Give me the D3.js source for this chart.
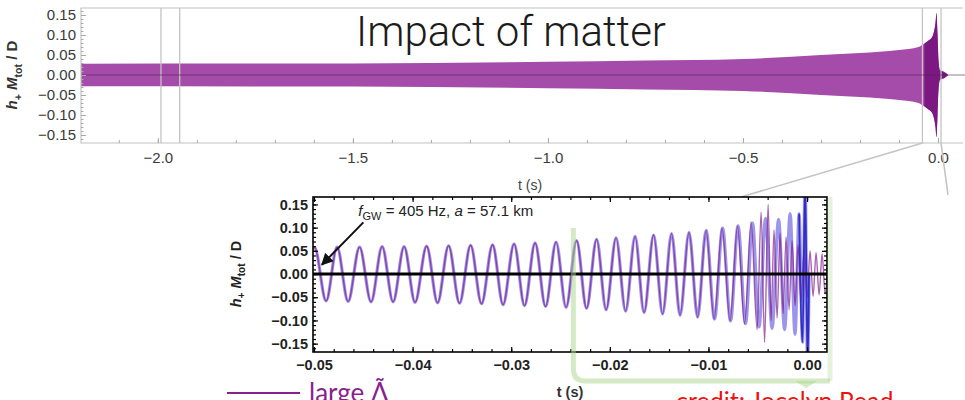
<!DOCTYPE html>
<html><head><meta charset="utf-8">
<script src="https://cdn.jsdelivr.net/npm/d3@7"></script>
<style>
body{margin:0;background:#fff;}
svg{display:block;}
</style></head>
<body>
<svg id="chart" width="965" height="400"></svg>
<script>
// ---- full inspiral: envelope of h+ Mtot/D over the last ~2.2 s ----
const fullTime = [-2.2, -1.5, -1.0, -0.75, -0.5, -0.3, -0.2, -0.1, -0.05, -0.041, -0.026, -0.015, -0.010, -0.0065, -0.004, -0.0013, 0.0013, 0.005, 0.013, 0.020, 0.026];
const fullAmp  = [0.028, 0.029, 0.033, 0.036, 0.040, 0.050, 0.055, 0.0625, 0.070, 0.075, 0.085, 0.095, 0.110, 0.130, 0.155, 0.100, 0.035, 0.012, 0.009, 0.005, 0.0];
const fullTicksX = [-2.0, -1.5, -1.0, -0.5, 0.0];
const ampTicks = [-0.15, -0.10, -0.05, 0.00, 0.05, 0.10, 0.15];
const lateOnset = -0.035;            // start of the dense, darker late stage
const zoomWindows = [[-1.992, -1.944], [-0.040, 0.0077]];

// ---- last 50 ms: successive extrema of the waveform ----
const largeLambdaT = [-0.05111, -0.04994, -0.04877, -0.04766, -0.04654, -0.04538, -0.04421, -0.04309, -0.04198, -0.04086,
  -0.03975, -0.03858, -0.03747, -0.03635, -0.03524, -0.03412, -0.03301, -0.03189, -0.03083, -0.02971,
  -0.02865, -0.02758, -0.02652, -0.02545, -0.02444, -0.02337, -0.02236, -0.02134, -0.02038, -0.01937,
  -0.01840, -0.01744, -0.01653, -0.01556, -0.01465, -0.01374, -0.01288, -0.01197, -0.01110, -0.01024,
  -0.00943, -0.00862, -0.00781, -0.00705, -0.00634, -0.00568, -0.00507, -0.00466, -0.00431, -0.00395,
  -0.00365, -0.00335, -0.00304, -0.00274, -0.00243, -0.00213, -0.00183, -0.00152, -0.00122, -0.00091,
  -0.00061, -0.00030, 0.00000, 0.00030, 0.00061, 0.00091, 0.00122, 0.00152, 0.00183, 0.00213];
const largeLambdaH = [-0.057, 0.057, -0.058, 0.058, -0.059, 0.058, -0.060, 0.059, -0.060, 0.059,
  -0.061, 0.060, -0.062, 0.061, -0.063, 0.062, -0.064, 0.063, -0.066, 0.065,
  -0.068, 0.067, -0.070, 0.069, -0.072, 0.072, -0.074, 0.075, -0.077, 0.078,
  -0.080, 0.081, -0.083, 0.084, -0.086, 0.087, -0.089, 0.090, -0.093, 0.094,
  -0.097, 0.098, -0.101, 0.103, -0.107, 0.112, -0.120, 0.134, -0.147, 0.150,
  -0.100, 0.095, -0.095, 0.088, -0.085, 0.080, -0.077, 0.072, -0.068, 0.063,
  -0.060, 0.055, -0.052, 0.050, -0.048, 0.046, -0.045, 0.044, -0.043, 0.042];

const pointT = [-0.05111, -0.04994, -0.04877, -0.04766, -0.04654, -0.04538, -0.04421, -0.04309, -0.04198, -0.04086,
  -0.03975, -0.03858, -0.03747, -0.03635, -0.03524, -0.03412, -0.03301, -0.03189, -0.03083, -0.02971,
  -0.02865, -0.02758, -0.02652, -0.02545, -0.02444, -0.02337, -0.02236, -0.02134, -0.02038, -0.01937,
  -0.01840, -0.01744, -0.01653, -0.01556, -0.01465, -0.01374, -0.01288, -0.01197, -0.01110, -0.01024,
  -0.00938, -0.00857, -0.00776, -0.00700, -0.00624, -0.00553, -0.00487, -0.00421, -0.00355, -0.00289,
  -0.00228, -0.00172, -0.00122, -0.00081, -0.00046, -0.00020, 0.00005, 0.00020];
const pointH = [-0.057, 0.057, -0.058, 0.058, -0.059, 0.058, -0.060, 0.059, -0.060, 0.059,
  -0.061, 0.060, -0.062, 0.061, -0.063, 0.062, -0.064, 0.063, -0.066, 0.065,
  -0.068, 0.067, -0.070, 0.069, -0.072, 0.072, -0.074, 0.075, -0.077, 0.078,
  -0.080, 0.081, -0.083, 0.084, -0.086, 0.087, -0.089, 0.090, -0.093, 0.094,
  -0.097, 0.099, -0.101, 0.104, -0.107, 0.110, -0.114, 0.120, -0.117, 0.118,
  -0.120, 0.130, -0.130, 0.130, -0.147, 0.200, -0.200, 0.0];
const insetTicksX = [-0.05, -0.04, -0.03, -0.02, -0.01, 0.00];
const annotTarget = [-0.0492, 0.02];
const annotText = [-0.0455, 0.135];

const svg = d3.select("#chart");
const fmt2 = d3.format(".2f"), fmt1 = d3.format(".1f");

// ================= upper panel =================
const upBox = {l: 81, r: 963, t: 8, b: 143};
const xTop = d3.scaleLinear().domain([-2.197, 0.064]).range([upBox.l, upBox.r]);
const yTop = d3.scaleLinear().domain([-0.17, 0.1675]).range([upBox.b, upBox.t]);

const gTop = svg.append("g");
gTop.append("clipPath").attr("id", "topclip").append("rect")
  .attr("x", upBox.l).attr("y", upBox.t).attr("width", upBox.r - upBox.l + 5).attr("height", upBox.b - upBox.t);
gTop.append("clipPath").attr("id", "lateclip").append("rect")
  .attr("x", xTop(lateOnset)).attr("y", upBox.t).attr("width", upBox.r - xTop(lateOnset) + 5).attr("height", upBox.b - upBox.t);

const envData = fullTime.map((t, i) => ({t, a: fullAmp[i]}));
const band = d3.area().x(d => xTop(d.t)).y0(d => yTop(-d.a)).y1(d => yTop(d.a)).curve(d3.curveMonotoneX);
gTop.append("path").datum(envData).attr("d", band).attr("fill", "#a54ba9").attr("clip-path", "url(#topclip)");
gTop.append("path").datum(envData).attr("d", band).attr("fill", "#7b1882").attr("clip-path", "url(#lateclip)");

// zoom-window markers
zoomWindows.flat().forEach(t => {
  gTop.append("line").attr("x1", xTop(t)).attr("x2", xTop(t)).attr("y1", upBox.t).attr("y2", upBox.b)
    .attr("stroke", "#c4c4c4").attr("stroke-width", 1.3);
});
// zero line
gTop.append("line").attr("x1", upBox.l).attr("x2", 965).attr("y1", yTop(0)).attr("y2", yTop(0))
  .attr("stroke", "#4a2a4a").attr("stroke-opacity", 0.6).attr("stroke-width", 1);
// frame
gTop.append("path").attr("d", `M${upBox.r},${upBox.t}H${upBox.l}V${upBox.b}H${upBox.r}`)
  .attr("fill", "none").attr("stroke", "#c2c2c2").attr("stroke-width", 1.2);

gTop.append("g").attr("transform", `translate(0,${upBox.b})`)
  .call(d3.axisBottom(xTop).tickValues(fullTicksX).tickFormat(fmt1).tickSize(-5).tickPadding(9).tickSizeOuter(0));
gTop.append("g").attr("transform", `translate(0,${upBox.b})`)
  .call(d3.axisBottom(xTop).tickValues(d3.range(-2.1, 0.05, 0.1)).tickFormat("").tickSize(-3).tickSizeOuter(0));
gTop.append("g").attr("transform", `translate(${upBox.l},0)`)
  .call(d3.axisLeft(yTop).tickValues(ampTicks).tickFormat(fmt2).tickSize(-5).tickPadding(5).tickSizeOuter(0));
gTop.append("g").attr("transform", `translate(${upBox.l},0)`)
  .call(d3.axisLeft(yTop).tickValues(d3.range(-0.16, 0.165, 0.01)).tickFormat("").tickSize(-2.5).tickSizeOuter(0));
gTop.selectAll(".domain").remove();
gTop.selectAll(".tick line").attr("stroke", "#aaa");
gTop.selectAll(".tick text").attr("font-family", "Liberation Sans, Arial, sans-serif")
  .attr("font-size", 15).attr("fill", "#3a3a3a");

gTop.append("text").attr("x", 530).attr("y", 190).attr("text-anchor", "middle")
  .attr("font-family", "Liberation Sans, Arial, sans-serif").attr("font-size", 14).attr("fill", "#444")
  .text("t (s)");

function yLabel(g, x, y, size, fill) {
  const t = g.append("text").attr("transform", `translate(${x},${y}) rotate(-90)`)
    .attr("text-anchor", "middle").attr("font-family", "Liberation Sans, Arial, sans-serif")
    .attr("font-size", size).attr("font-weight", "bold").attr("fill", fill);
  t.append("tspan").attr("font-style", "italic").text("h");
  t.append("tspan").attr("font-size", size * 0.7).attr("dy", size * 0.3).text("+");
  t.append("tspan").attr("dy", -size * 0.3).text(" ");
  t.append("tspan").attr("font-style", "italic").text("M");
  t.append("tspan").attr("font-size", size * 0.7).attr("dy", size * 0.3).text("tot");
  t.append("tspan").attr("dy", -size * 0.3).text(" / D");
}
yLabel(gTop, 17, yTop(0), 15, "#333");

// title
svg.append("text").attr("x", 511).attr("y", 46).attr("text-anchor", "middle")
  .attr("font-family", "Roboto, sans-serif").attr("font-weight", 300).attr("font-size", 42)
  .attr("fill", "#1c1c1c").text("Impact of matter");

// ================= inset: last 50 ms =================
const ins = {l: 313, r: 827, t: 197, b: 352};
const xIn = d3.scaleLinear().domain([-0.0501, 0.00202]).range([ins.l, ins.r]);
const yIn = d3.scaleLinear().domain([-0.168, 0.166]).range([ins.b, ins.t]);

// connectors from the zoom window down to the inset
const conn = [[xTop(zoomWindows[1][0]), upBox.b, xIn(-0.0067), ins.t],
              [xTop(zoomWindows[1][1]), upBox.b, 948, ins.t - 2]];
conn.forEach(c => svg.append("line").attr("x1", c[0]).attr("y1", c[1]).attr("x2", c[2]).attr("y2", c[3])
  .attr("stroke", "#c4c4c4").attr("stroke-width", 1.6));

const gIn = svg.append("g");
gIn.append("rect").attr("x", ins.l).attr("y", ins.t).attr("width", ins.r - ins.l).attr("height", ins.b - ins.t).attr("fill", "#fff");
gIn.append("clipPath").attr("id", "inclip").append("rect")
  .attr("x", ins.l).attr("y", ins.t).attr("width", ins.r - ins.l).attr("height", ins.b - ins.t);

const wave = d3.line().x(d => xIn(d[0])).y(d => yIn(d[1])).curve(d3.curveMonotoneX);
const largeData = largeLambdaT.map((t, i) => [t, largeLambdaH[i]]);
const pointData = pointT.map((t, i) => [t, pointH[i]]);
// point-particle track: broad, translucent blue
gIn.append("path").datum(pointData).attr("d", wave).attr("fill", "none")
  .attr("stroke", "#5a4ee0").attr("stroke-opacity", 0.6).attr("stroke-width", 3.2).attr("clip-path", "url(#inclip)");
// large-deformability track: purple on top
gIn.append("path").datum(largeData).attr("d", wave).attr("fill", "none")
  .attr("stroke", "#84208c").attr("stroke-opacity", 0.7).attr("stroke-width", 1.4).attr("clip-path", "url(#inclip)");
// final blue spike stays visible over the purple ringdown
gIn.append("path").datum(pointData.slice(-5)).attr("d", wave).attr("fill", "none")
  .attr("stroke", "#2e2ec8").attr("stroke-width", 1.8).attr("clip-path", "url(#inclip)");
gIn.append("line").attr("x1", ins.l).attr("x2", ins.r).attr("y1", yIn(0)).attr("y2", yIn(0))
  .attr("stroke", "#000").attr("stroke-width", 3);

// axes with inward ticks on every side
const axs = [
  [d3.axisBottom(xIn).tickValues(insetTicksX).tickFormat(fmt2).tickSize(-5).tickPadding(8), `translate(0,${ins.b})`],
  [d3.axisBottom(xIn).tickValues(d3.range(-0.048, 0.002, 0.002)).tickFormat("").tickSize(-3), `translate(0,${ins.b})`],
  [d3.axisTop(xIn).tickValues(insetTicksX).tickFormat("").tickSize(-5), `translate(0,${ins.t})`],
  [d3.axisTop(xIn).tickValues(d3.range(-0.048, 0.002, 0.002)).tickFormat("").tickSize(-3), `translate(0,${ins.t})`],
  [d3.axisLeft(yIn).tickValues(ampTicks).tickFormat(fmt2).tickSize(-5).tickPadding(5), `translate(${ins.l},0)`],
  [d3.axisLeft(yIn).tickValues(d3.range(-0.16, 0.165, 0.01)).tickFormat("").tickSize(-3), `translate(${ins.l},0)`],
  [d3.axisRight(yIn).tickValues(ampTicks).tickFormat("").tickSize(-5), `translate(${ins.r},0)`],
  [d3.axisRight(yIn).tickValues(d3.range(-0.16, 0.165, 0.01)).tickFormat("").tickSize(-3), `translate(${ins.r},0)`]
];
axs.forEach(([a, tr]) => gIn.append("g").attr("transform", tr).call(a.tickSizeOuter(0)));
gIn.selectAll(".domain").remove();
gIn.selectAll(".tick line").attr("stroke", "#000").attr("stroke-width", 1.2);
gIn.selectAll(".tick text").attr("font-family", "Liberation Sans, Arial, sans-serif")
  .attr("font-size", 14.5).attr("font-weight", "bold").attr("fill", "#222");
gIn.append("rect").attr("x", ins.l).attr("y", ins.t).attr("width", ins.r - ins.l).attr("height", ins.b - ins.t)
  .attr("fill", "none").attr("stroke", "#000").attr("stroke-width", 1.6);

yLabel(gIn, 241, yIn(0), 14.5, "#222");
gIn.append("text").attr("x", 570).attr("y", 397).attr("text-anchor", "middle")
  .attr("font-family", "Liberation Sans, Arial, sans-serif").attr("font-size", 14.5).attr("font-weight", "bold")
  .attr("fill", "#333").text("t (s)");

// annotation with arrow
svg.append("defs").append("marker").attr("id", "arr").attr("viewBox", "0 0 10 10").attr("refX", 9).attr("refY", 5)
  .attr("markerWidth", 6).attr("markerHeight", 6).attr("orient", "auto")
  .append("path").attr("d", "M0,0L10,5L0,10z").attr("fill", "#111");
gIn.append("line").attr("x1", xIn(annotText[0]) + 5).attr("y1", yIn(annotText[1]) + 11)
  .attr("x2", xIn(annotTarget[0])).attr("y2", yIn(annotTarget[1]))
  .attr("stroke", "#111").attr("stroke-width", 2).attr("marker-end", "url(#arr)");
const at = gIn.append("text").attr("x", xIn(annotText[0])).attr("y", yIn(annotText[1]) + 5)
  .attr("font-family", "Liberation Sans, Arial, sans-serif").attr("font-size", 15).attr("fill", "#222");
at.append("tspan").attr("font-style", "italic").text("f");
at.append("tspan").attr("font-size", 11).attr("dy", 4).text("GW");
at.append("tspan").attr("dy", -4).text(" = 405 Hz, ");
at.append("tspan").attr("font-style", "italic").text("a");
at.append("tspan").text(" = 57.1 km");

// highlight bracket
const gr = svg.append("g").attr("fill", "none").attr("stroke", "#a9d68a").attr("stroke-opacity", 0.5).attr("stroke-width", 5);
gr.append("path").attr("d", `M${xIn(-0.0237)},228V369Q${xIn(-0.0237)},381 ${xIn(-0.0237) + 12},381H${ins.r + 3}`);
gr.append("path").attr("d", `M${ins.r + 3},${ins.t}V381`).attr("stroke-opacity", 0.3);
svg.append("path").attr("d", `M${xIn(-0.0012)},381L${xIn(0.001)},381L${xIn(-0.0001)},388z`)
  .attr("fill", "#a9d68a").attr("fill-opacity", 0.5);

// legend entry and credit (running off the bottom edge)
svg.append("line").attr("x1", 227).attr("x2", 300).attr("y1", 393).attr("y2", 393)
  .attr("stroke", "#8a1f8f").attr("stroke-width", 2);
svg.append("text").attr("x", 309).attr("y", 402).attr("font-family", "Lato, sans-serif").attr("font-size", 26)
  .attr("fill", "#8a1f8f").text("large \u039B\u0303");
svg.append("text").attr("x", 676).attr("y", 410).attr("font-family", "Lato, sans-serif").attr("font-size", 25)
  .attr("fill", "#ee1111").text("credit: Jocelyn Read");
</script>
</body></html>
